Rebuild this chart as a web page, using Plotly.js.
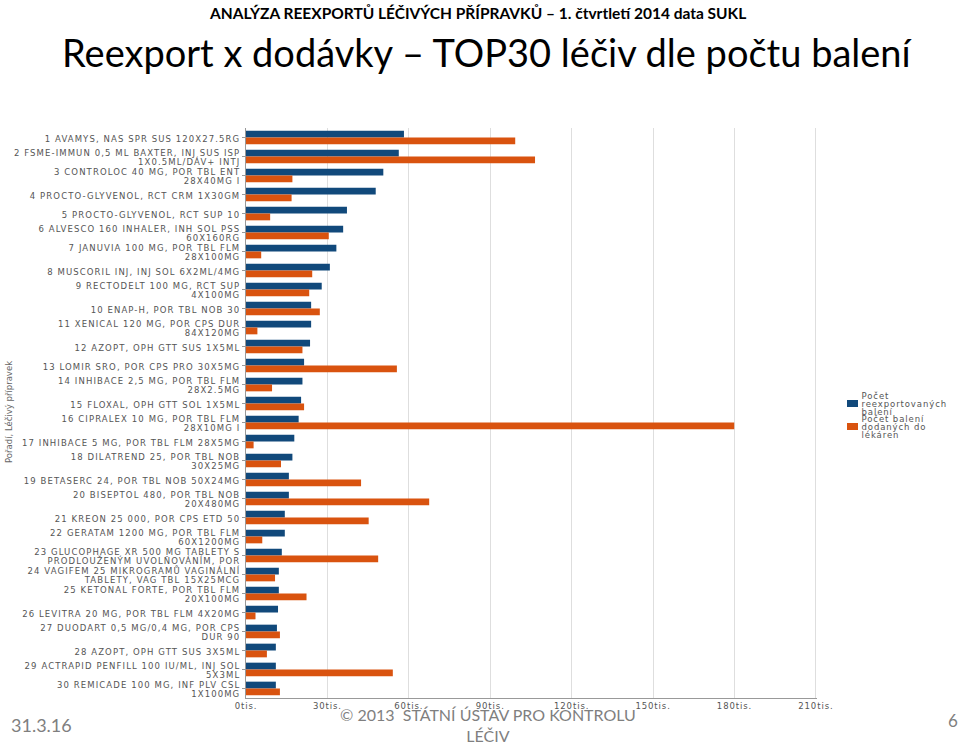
<!DOCTYPE html>
<html>
<head>
<meta charset="utf-8">
<script src="https://cdn.plot.ly/plotly-3.0.1.min.js"></script>
<style>
html,body{margin:0;padding:0;background:#fff;}
#chart{width:960px;height:743px;}
#chart .ytick text {letter-spacing: 1.1px;}
#chart .xtick text {letter-spacing: 0.9px;}
#chart .legendtext {letter-spacing: 0.9px;}
</style>
</head>
<body>
<div id="chart"></div>
<script>
const categories = [
  "1 AVAMYS, NAS SPR SUS 120X27.5RG",
  "2 FSME-IMMUN 0,5 ML BAXTER, INJ SUS ISP<br>1X0.5ML/DÁV+ INTJ",
  "3 CONTROLOC 40 MG, POR TBL ENT<br>28X40MG I",
  "4 PROCTO-GLYVENOL, RCT CRM 1X30GM",
  "5 PROCTO-GLYVENOL, RCT SUP 10",
  "6 ALVESCO 160 INHALER, INH SOL PSS<br>60X160RG",
  "7 JANUVIA 100 MG, POR TBL FLM<br>28X100MG",
  "8 MUSCORIL INJ, INJ SOL 6X2ML/4MG",
  "9 RECTODELT 100 MG, RCT SUP<br>4X100MG",
  "10 ENAP-H, POR TBL NOB 30",
  "11 XENICAL 120 MG, POR CPS DUR<br>84X120MG",
  "12 AZOPT, OPH GTT SUS 1X5ML",
  "13 LOMIR SRO, POR CPS PRO 30X5MG",
  "14 INHIBACE 2,5 MG, POR TBL FLM<br>28X2.5MG",
  "15 FLOXAL, OPH GTT SOL 1X5ML",
  "16 CIPRALEX 10 MG, POR TBL FLM<br>28X10MG I",
  "17 INHIBACE 5 MG, POR TBL FLM 28X5MG",
  "18 DILATREND 25, POR TBL NOB<br>30X25MG",
  "19 BETASERC 24, POR TBL NOB 50X24MG",
  "20 BISEPTOL 480, POR TBL NOB<br>20X480MG",
  "21 KREON 25 000, POR CPS ETD 50",
  "22 GERATAM 1200 MG, POR TBL FLM<br>60X1200MG",
  "23 GLUCOPHAGE XR 500 MG TABLETY S<br>PRODLOUŽENÝM UVOLŇOVÁNÍM, POR",
  "24 VAGIFEM 25 MIKROGRAMŮ VAGINÁLNÍ<br>TABLETY, VAG TBL 15X25MCG",
  "25 KETONAL FORTE, POR TBL FLM<br>20X100MG",
  "26 LEVITRA 20 MG, POR TBL FLM 4X20MG",
  "27 DUODART 0,5 MG/0,4 MG, POR CPS<br>DUR 90",
  "28 AZOPT, OPH GTT SUS 3X5ML",
  "29 ACTRAPID PENFILL 100 IU/ML, INJ SOL<br>5X3ML",
  "30 REMICADE 100 MG, INF PLV CSL<br>1X100MG"
];
// values in thousands of packages (tis.)
const reexportValues = [58.2, 56.3, 50.6, 47.8, 37.2, 35.8, 33.3, 30.9, 27.9, 24.0,
  24.0, 23.6, 21.4, 20.8, 20.3, 19.4, 17.8, 17.1, 15.8, 15.8,
  14.3, 14.3, 13.2, 12.1, 12.1, 11.8, 11.4, 11.0, 11.0, 11.0];
const pharmacyValues = [99.2, 106.5, 17.1, 16.8, 8.9, 30.5, 5.6, 24.4, 23.3, 27.2,
  4.2, 20.8, 55.6, 9.6, 21.4, 179.9, 2.8, 12.9, 42.4, 67.5,
  45.2, 6.0, 48.7, 10.7, 22.3, 3.5, 12.5, 7.7, 54.1, 12.5];
const seriesNames = ["Počet<br>reexportovaných<br>balení", "Počet balení<br>dodaných do<br>lékáren"];
const xTickVals = [0, 30, 60, 90, 120, 150, 180, 210];
const xTickText = ["0tis.", "30tis.", "60tis.", "90tis.", "120tis.", "150tis.", "180tis.", "210tis."];

const traces = [
  {type: "bar", orientation: "h", name: seriesNames[0], y: categories, x: reexportValues,
   marker: {color: "#11497b"}, hoverinfo: "x+y"},
  {type: "bar", orientation: "h", name: seriesNames[1], y: categories, x: pharmacyValues,
   marker: {color: "#d9530f"}, hoverinfo: "x+y"}
];

const gray = "#7f7f7f";
const layout = {
  width: 960, height: 743,
  margin: {l: 246, r: 142, t: 128, b: 45, pad: 0},
  paper_bgcolor: "#fff", plot_bgcolor: "#fff",
  barmode: "group", bargap: 0.28, bargroupgap: 0,
  showlegend: true,
  legend: {x: 1.0245, y: 0.55, xanchor: "left", yanchor: "top", bgcolor: "rgba(0,0,0,0)",
    font: {family: "DejaVu Sans", size: 8.5, color: "#555"}, tracegroupgap: 4, itemwidth: 30},
  xaxis: {range: [0, 210.4], tickvals: xTickVals, ticktext: xTickText,
    showgrid: true, gridcolor: "#dedede", gridwidth: 1, zeroline: false,
    showline: true, linecolor: "#999", linewidth: 1,
    tickfont: {family: "DejaVu Sans", size: 8.5, color: "#555"}, ticks: "", fixedrange: true},
  yaxis: {autorange: "reversed", type: "category", showgrid: false, zeroline: false,
    showline: true, linecolor: "#999", linewidth: 1, ticks: "outside", ticklen: 3, tickcolor: "#999",
    tickfont: {family: "DejaVu Sans", size: 8.5, color: "#555"}, fixedrange: true},
  font: {family: "DejaVu Sans", color: "#555"},
  annotations: [
    {text: "<b>ANALÝZA REEXPORTŮ LÉČIVÝCH PŘÍPRAVKŮ – 1. čtvrtletí 2014 data SUKL</b>",
     xref: "paper", yref: "paper", x: 0.4056, y: 1.2009, xanchor: "center", yanchor: "middle", showarrow: false,
     font: {family: "Lato", size: 15.5, color: "#000"}},
    {text: "Reexport x dodávky – TOP30 léčiv dle počtu balení",
     xref: "paper", yref: "paper", x: 0.423, y: 1.134, xanchor: "center", yanchor: "middle", showarrow: false,
     font: {family: "Lato", size: 38, color: "#000"}},
    {text: "Pořadí, Léčivý přípravek", textangle: -90,
     xref: "paper", yref: "paper", x: -0.416, y: 0.5026, xanchor: "center", yanchor: "middle", showarrow: false,
     font: {family: "DejaVu Sans", size: 8.5, color: "#666"}},
    {text: "31.3.16", xref: "paper", yref: "paper", x: -0.358, y: -0.048,
     xanchor: "center", yanchor: "middle", showarrow: false,
     font: {family: "Lato", size: 18, color: gray}},
    {text: "© 2013  STÁTNÍ ÚSTAV PRO KONTROLU<br>LÉČIV", xref: "paper", yref: "paper",
     x: 0.423, y: -0.0475, xanchor: "center", yanchor: "middle", showarrow: false,
     font: {family: "Lato", size: 16, color: gray}},
    {text: "6", xref: "paper", yref: "paper", x: 1.239, y: -0.039,
     xanchor: "center", yanchor: "middle", showarrow: false,
     font: {family: "Lato", size: 17, color: gray}}
  ]
};

// tighten multi-line text spacing (plotly uses 1.3em line spacing)
function compressLines(textEl, k, extra) {
  const lines = textEl.querySelectorAll("tspan.line");
  const n = lines.length;
  if (n < 2) {
    if (extra) textEl.setAttribute("dy", extra + "em");
    return;
  }
  const off = (n - 1) * 1.3 * (1 - k) / 2 + (extra || 0);
  lines.forEach(function (t, i) { t.setAttribute("dy", (i * 1.3 * k + off) + "em"); });
}
function parseTranslate(el) {
  const tr = el.getAttribute("transform") || "";
  const m = tr.match(/translate\(\s*([-\d.e]+)[ ,]+([-\d.e]+)\s*\)/);
  return m ? [parseFloat(m[1]), parseFloat(m[2])] : [0, 0];
}

Plotly.newPlot("chart", traces, layout, {displayModeBar: false, staticPlot: true}).then(function (gd) {
  try {
    gd.querySelectorAll(".ytick text").forEach(function (t) { compressLines(t, 1 / 1.3, 0.12); });
    gd.querySelectorAll(".legend [clip-path]").forEach(function (e) { e.removeAttribute("clip-path"); });
    const items = gd.querySelectorAll(".legend g.traces");
    const swatchCenter = [403.5, 426.5];
    items.forEach(function (g, i) {
      const txt = g.querySelector("text.legendtext");
      if (txt) {
        compressLines(txt, 0.73, 0);
        const x = parseFloat(txt.getAttribute("x")) - 11;
        txt.setAttribute("x", x);
        txt.querySelectorAll("tspan.line").forEach(function (s) { s.setAttribute("x", x); });
      }
      const sw = g.querySelector(".legendpoints path") || g.querySelector("path");
      if (sw) {
        sw.setAttribute("d", "M5.5,3.5H-5.5V-3.5H5.5Z");
        const r = sw.getBoundingClientRect();
        const cy = r.top + r.height / 2;
        const dx = 847 - r.left;
        const dy = swatchCenter[i] - cy;
        const p = parseTranslate(g);
        g.setAttribute("transform", "translate(" + (p[0] + dx) + "," + (p[1] + dy) + ")");
      }
    });
  } catch (e) { console.log(e); }
});
</script>
</body>
</html>
